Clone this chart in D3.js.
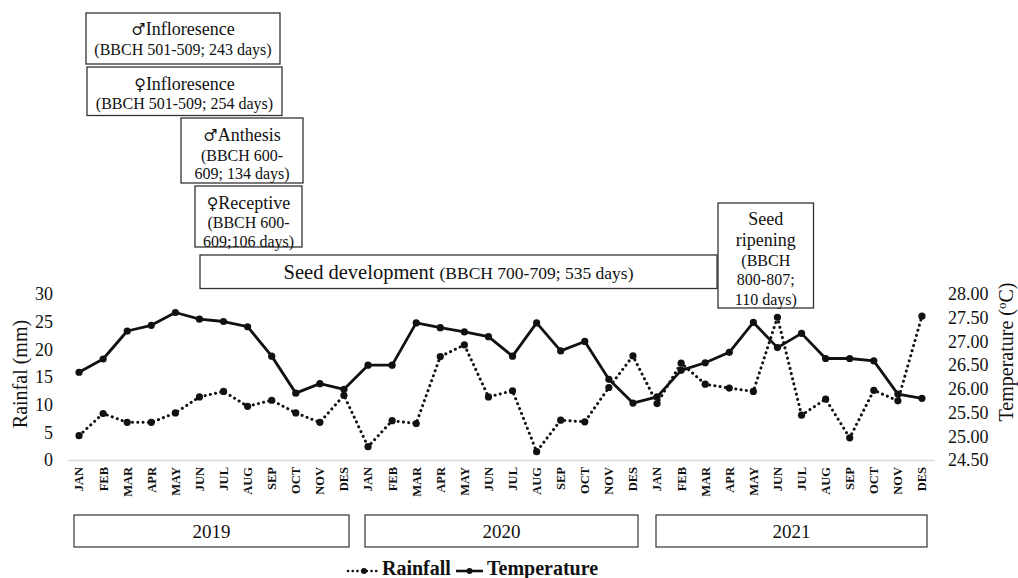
<!DOCTYPE html>
<html>
<head>
<meta charset="utf-8">
<script src="https://cdn.jsdelivr.net/npm/d3@7"></script>
<style>
  body { margin: 0; background: #fff; }
  #chart text { font-family: "Liberation Serif", serif; fill: #111; }
  #chart tspan.sym { font-family: "DejaVu Serif", serif; }
</style>
</head>
<body>
<svg id="chart" width="1018" height="578" font-family="Liberation Serif"></svg>
<script>
// ---- data ----
const years = ["2019", "2020", "2021"];
const months = ["JAN", "FEB", "MAR", "APR", "MAY", "JUN", "JUL", "AUG", "SEP", "OCT", "NOV", "DES"];

// monthly rainfall (mm), Jan 2019 .. Des 2021
const rainfall = [
  4.4, 8.4, 6.8, 6.8, 8.5, 11.4, 12.4, 9.7, 10.8, 8.5, 6.8, 11.7,
  2.4, 7.1, 6.6, 18.7, 20.8, 11.4, 12.5, 1.5, 7.2, 6.9, 13.1, 18.8,
  10.2, 17.5, 13.7, 13.0, 12.4, 25.8, 8.1, 11.0, 4.0, 12.6, 10.7, 26.0
];
// monthly mean temperature (°C), Jan 2019 .. Des 2021
const temperature = [
  26.35, 26.63, 27.22, 27.34, 27.61, 27.47, 27.42, 27.31, 26.69, 25.91, 26.11, 25.99,
  26.50, 26.50, 27.39, 27.29, 27.20, 27.10, 26.69, 27.39, 26.80, 27.00, 26.20, 25.70,
  25.83, 26.39, 26.55, 26.77, 27.40, 26.87, 27.17, 26.64, 26.64, 26.59, 25.89, 25.80
];

const rainTicks = [0, 5, 10, 15, 20, 25, 30];
const tempTicks = [24.5, 25.0, 25.5, 26.0, 26.5, 27.0, 27.5, 28.0];
const seriesNames = ["Rainfall", "Temperature"];

// phenology phase annotations: [sex symbol, title, detail lines...]
const phaseLines = [
  ["\u2642", "Infloresence", "(BBCH 501-509; 243 days)"],
  ["\u2640", "Infloresence", "(BBCH 501-509; 254 days)"],
  ["\u2642", "Anthesis", "(BBCH 600-", "609; 134 days)"],
  ["\u2640", "Receptive", "(BBCH 600-", "609;106 days)"]
];
const ripeningLines = ["Seed", "ripening", "(BBCH", "800-807;", "110 days)"];
const seedDevTitle = "Seed development";
const seedDevDetail = "(BBCH 700-709; 535 days)";

// ---- layout ----
const FONT = "Liberation Serif";
const SYMBOL_FONT = "DejaVu Serif";
const INK = "#111";
const svg = d3.select("#chart");
const plot = { left: 67, right: 934, top: 294, bottom: 460 };

const idx = d3.range(years.length * months.length);
const x = d3.scaleBand().domain(idx).range([plot.left, plot.right]).padding(0);
const cx = i => x(i) + x.bandwidth() / 2;
const yRain = d3.scaleLinear().domain([0, 30]).range([plot.bottom, plot.top]);
const yTemp = d3.scaleLinear().domain([24.5, 28]).range([plot.bottom, plot.top]);

// helper: a serif label
function label(parent, size) {
  return parent.append("text").style("font-family", FONT).style("font-size", size + "px").style("fill", INK);
}

// left axis
const gLeft = svg.append("g").attr("transform", `translate(${plot.left},0)`)
  .call(d3.axisLeft(yRain).tickValues(rainTicks).tickSize(0).tickPadding(14));
gLeft.select(".domain").remove();
gLeft.attr("font-family", FONT).attr("font-size", 18);
gLeft.selectAll("text").style("font-family", FONT).style("font-size", "18px");

// right axis
const gRight = svg.append("g").attr("transform", `translate(${plot.right},0)`)
  .call(d3.axisRight(yTemp).tickValues(tempTicks).tickFormat(d3.format(".2f")).tickSize(0).tickPadding(14));
gRight.select(".domain").remove();
gRight.attr("font-family", FONT).attr("font-size", 18);
gRight.selectAll("text").style("font-family", FONT).style("font-size", "18px");

// bottom axis with month labels
const gBottom = svg.append("g").attr("transform", `translate(0,${plot.bottom})`)
  .call(d3.axisBottom(x).tickSize(0).tickFormat(i => months[i % 12]));
gBottom.attr("font-family", FONT).attr("font-size", 12.5);
gBottom.select(".domain").attr("stroke", "#d9d9d9").attr("stroke-width", 1.5);
gBottom.selectAll("text")
  .style("font-family", FONT)
  .style("font-size", "12.5px").style("font-weight", "bold")
  .attr("transform", "rotate(-90)")
  .attr("text-anchor", "end")
  .attr("x", -7).attr("y", 0).attr("dy", "0.35em");

// axis titles
label(svg, 20)
  .attr("transform", `translate(27,${(plot.top + plot.bottom) / 2 - 3}) rotate(-90)`)
  .attr("text-anchor", "middle")
  .text("Rainfal (mm)");

const tTitle = label(svg, 20)
  .attr("transform", `translate(1013,${(plot.top + plot.bottom) / 2 - 25}) rotate(-90)`)
  .attr("text-anchor", "middle");
tTitle.append("tspan").text("Temperature (");
tTitle.append("tspan").text("o").style("font-size", "13px").attr("dy", "-7");
tTitle.append("tspan").text("C)").attr("dy", "7");

// series
const lineRain = d3.line().x((d, i) => cx(i)).y(d => yRain(d));
const lineTemp = d3.line().x((d, i) => cx(i)).y(d => yTemp(d));

svg.append("path").datum(rainfall).attr("d", lineRain)
  .attr("fill", "none").attr("stroke", "#111").attr("stroke-width", 3)
  .attr("stroke-linecap", "round").attr("stroke-dasharray", "0.1 5.2");
svg.append("path").datum(temperature).attr("d", lineTemp)
  .attr("fill", "none").attr("stroke", "#111").attr("stroke-width", 2.8)
  .attr("stroke-linejoin", "round");

svg.append("g").selectAll("circle").data(rainfall).join("circle")
  .attr("cx", (d, i) => cx(i)).attr("cy", d => yRain(d)).attr("r", 3.6).attr("fill", "#111");
svg.append("g").selectAll("circle").data(temperature).join("circle")
  .attr("cx", (d, i) => cx(i)).attr("cy", d => yTemp(d)).attr("r", 3.6).attr("fill", "#111");

// year boxes under each twelve-month block
const gYears = svg.append("g");
years.forEach((yr, k) => {
  const x0 = x(k * 12) + 7 + 2 * k, x1 = x(k * 12 + 11) + x.bandwidth() - 7;
  gYears.append("rect").attr("x", x0).attr("y", 515).attr("width", x1 - x0).attr("height", 32)
    .attr("fill", "#fff").attr("stroke", "#333").attr("stroke-width", 1.2);
  label(gYears, 19).attr("x", (x0 + x1) / 2).attr("y", 531).attr("dy", "0.35em")
    .attr("text-anchor", "middle").text(yr);
});

// phase annotation boxes
const boxLayout = [
  { x: 86, y: 13, w: 194, h: 51, cy: [28.5, 49.5] },
  { x: 87, y: 67, w: 195, h: 48.5, cy: [83.5, 103] },
  { x: 181, y: 118, w: 122, h: 65, cy: [135, 155, 173.5] },
  { x: 195, y: 186, w: 107, h: 61, cy: [202.5, 222, 241] }
];
const gPhase = svg.append("g");
phaseLines.forEach((lines, k) => {
  const b = boxLayout[k];
  gPhase.append("rect").attr("x", b.x).attr("y", b.y).attr("width", b.w).attr("height", b.h)
    .attr("fill", "#fff").attr("stroke", "#333").attr("stroke-width", 1.3);
  const [sym, title, ...detail] = lines;
  const t = label(gPhase, 18).attr("x", b.x + b.w / 2).attr("y", b.cy[0]).attr("dy", "0.35em")
    .attr("text-anchor", "middle");
  t.append("tspan").attr("class", "sym").style("font-family", SYMBOL_FONT).style("font-size", "16px").text(sym);
  t.append("tspan").text(title);
  detail.forEach((ln, j) => {
    label(gPhase, 16).attr("x", b.x + b.w / 2).attr("y", b.cy[j + 1]).attr("dy", "0.35em")
      .attr("text-anchor", "middle").text(ln);
  });
});

// seed ripening box
const rip = { x: 718, y: 203, w: 95.5, h: 105, cy: [218.5, 240, 260, 279.5, 299.5] };
gPhase.append("rect").attr("x", rip.x).attr("y", rip.y).attr("width", rip.w).attr("height", rip.h)
  .attr("fill", "#fff").attr("stroke", "#333").attr("stroke-width", 1.3);
ripeningLines.forEach((ln, j) => {
  label(gPhase, j < 2 ? 18 : 16).attr("x", rip.x + rip.w / 2).attr("y", rip.cy[j]).attr("dy", "0.35em")
    .attr("text-anchor", "middle").text(ln);
});

// seed development box
gPhase.append("rect").attr("x", 200).attr("y", 255).attr("width", 517).attr("height", 33.5)
  .attr("fill", "#fff").attr("stroke", "#333").attr("stroke-width", 1.3);
const sd = label(gPhase, 20.5).attr("x", 458.5).attr("y", 272).attr("dy", "0.35em")
  .attr("text-anchor", "middle");
sd.append("tspan").text(seedDevTitle + " ");
sd.append("tspan").style("font-size", "17.5px").text(seedDevDetail);

// legend
const gLeg = svg.append("g");
const legY = 571;
const leg0 = gLeg.append("g");
leg0.append("line").attr("x1", 348).attr("x2", 380).attr("y1", legY).attr("y2", legY)
  .attr("stroke", "#111").attr("stroke-width", 2.6).attr("stroke-linecap", "round")
  .attr("stroke-dasharray", "0.1 4.6");
leg0.append("circle").attr("cx", 364).attr("cy", legY).attr("r", 3).attr("fill", "#111");
label(leg0, 20).attr("x", 382).attr("y", 575).style("font-weight", "bold").text(seriesNames[0]);
const leg1 = gLeg.append("g");
leg1.append("line").attr("x1", 456).attr("x2", 483).attr("y1", legY).attr("y2", legY)
  .attr("stroke", "#111").attr("stroke-width", 2.6);
leg1.append("circle").attr("cx", 469.5).attr("cy", legY).attr("r", 3).attr("fill", "#111");
label(leg1, 20).attr("x", 487).attr("y", 575).style("font-weight", "bold").text(seriesNames[1]);
</script>
</body>
</html>
